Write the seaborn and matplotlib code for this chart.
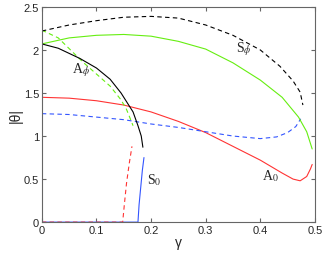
import numpy as np
import pandas as pd
import matplotlib
matplotlib.use("Agg")
import matplotlib.pyplot as plt
import seaborn as sns

# curves (gamma, |theta|)
a_phi_x = [0, 0.03, 0.07, 0.10, 0.125, 0.145, 0.155, 0.167, 0.176, 0.182, 0.185]
a_phi_y = [2.07, 2.02, 1.90, 1.79, 1.66, 1.50, 1.40, 1.28, 1.12, 1.00, 0.87]

s_phi_x = [0, 0.05, 0.10, 0.15, 0.20, 0.25, 0.30, 0.35, 0.40, 0.436, 0.46, 0.473, 0.478]
s_phi_y = [2.22, 2.29, 2.34, 2.38, 2.39, 2.37, 2.29, 2.17, 2.00, 1.81, 1.64, 1.51, 1.36]

green_x = [0, 0.05, 0.10, 0.15, 0.20, 0.25, 0.30, 0.35, 0.40, 0.44, 0.47, 0.485, 0.495]
green_y = [2.07, 2.14, 2.17, 2.18, 2.16, 2.10, 2.01, 1.85, 1.65, 1.45, 1.22, 1.05, 0.85]

green_dash_x = [0, 0.03, 0.075, 0.10, 0.125, 0.145, 0.155, 0.162, 0.167]
green_dash_y = [2.23, 2.14, 1.86, 1.72, 1.58, 1.42, 1.31, 1.20, 1.12]

red_x = [0, 0.05, 0.10, 0.15, 0.20, 0.25, 0.30, 0.35, 0.40, 0.44, 0.46, 0.473, 0.485, 0.492, 0.495]
red_y = [1.45, 1.44, 1.41, 1.36, 1.28, 1.17, 1.04, 0.88, 0.72, 0.57, 0.50, 0.48, 0.53, 0.62, 0.67]

blue_dash_x = [0, 0.05, 0.10, 0.15, 0.20, 0.25, 0.30, 0.35, 0.40, 0.43, 0.45, 0.465, 0.474]
blue_dash_y = [1.26, 1.25, 1.22, 1.19, 1.14, 1.10, 1.05, 1.00, 0.97, 0.99, 1.04, 1.11, 1.20]

red_dash_x = [0, 0.148, 0.151, 0.155, 0.160, 0.165]
red_dash_y = [0, 0, 0.20, 0.45, 0.68, 0.88]

blue_x = [0, 0.176, 0.178, 0.181, 0.184, 0.187]
blue_y = [0, 0, 0.20, 0.40, 0.60, 0.75]

sns.set_style("ticks")
plt.rcParams['font.family'] = ['Liberation Sans', 'DejaVu Sans']
plt.rcParams['mathtext.fontset'] = 'stix'

fig = plt.figure(figsize=(3.27, 2.55), dpi=100)
ax = fig.add_axes([0.128, 0.125, 0.835, 0.844])

green = "#66ee11"
red = "#ff3333"
blue = "#3355ff"

curves = [
    (blue_x, blue_y, blue, "-"),
    (red_dash_x, red_dash_y, red, (0, (4, 3))),
    (red_x, red_y, red, "-"),
    (blue_dash_x, blue_dash_y, blue, (0, (4, 3))),
    (green_x, green_y, green, "-"),
    (green_dash_x, green_dash_y, green, (0, (4, 3))),
    (s_phi_x, s_phi_y, "black", (0, (4, 3))),
    (a_phi_x, a_phi_y, "black", "-"),
]
for xs, ys, c, ls in curves:
    df = pd.DataFrame({"g": xs, "t": ys})
    sns.lineplot(data=df, x="g", y="t", ax=ax, color=c, linewidth=0.8,
                 linestyle=ls, sort=False, estimator=None)

ax.set_xlim(0, 0.5)
ax.set_ylim(0, 2.5)
ax.set_xticks([0, 0.1, 0.2, 0.3, 0.4, 0.5])
ax.set_xticklabels(["0", "0.1", "0.2", "0.3", "0.4", "0.5"])
ax.set_yticks([0, 0.5, 1, 1.5, 2, 2.5])
ax.set_yticklabels(["0", "0.5", "1", "1.5", "2", "2.5"])
ax.tick_params(direction="in", length=3, labelsize=8, top=True, right=True,
               color="#666666", pad=2)
for s in ax.spines.values():
    s.set_color("#666666")
    s.set_linewidth(0.8)

ax.set_xlabel("γ", fontsize=10, labelpad=0)
ax.set_ylabel("|θ|", fontsize=10, labelpad=1)

lab = dict(fontsize=10, family="Liberation Serif")
ax.text(0.055, 1.74, r"A$_\phi$", **lab)
ax.text(0.355, 1.98, r"S$_\phi$", **lab)
ax.text(0.193, 0.45, r"S$_0$", **lab)
ax.text(0.403, 0.50, r"A$_0$", **lab)

plt.savefig("out.png", dpi=100)
